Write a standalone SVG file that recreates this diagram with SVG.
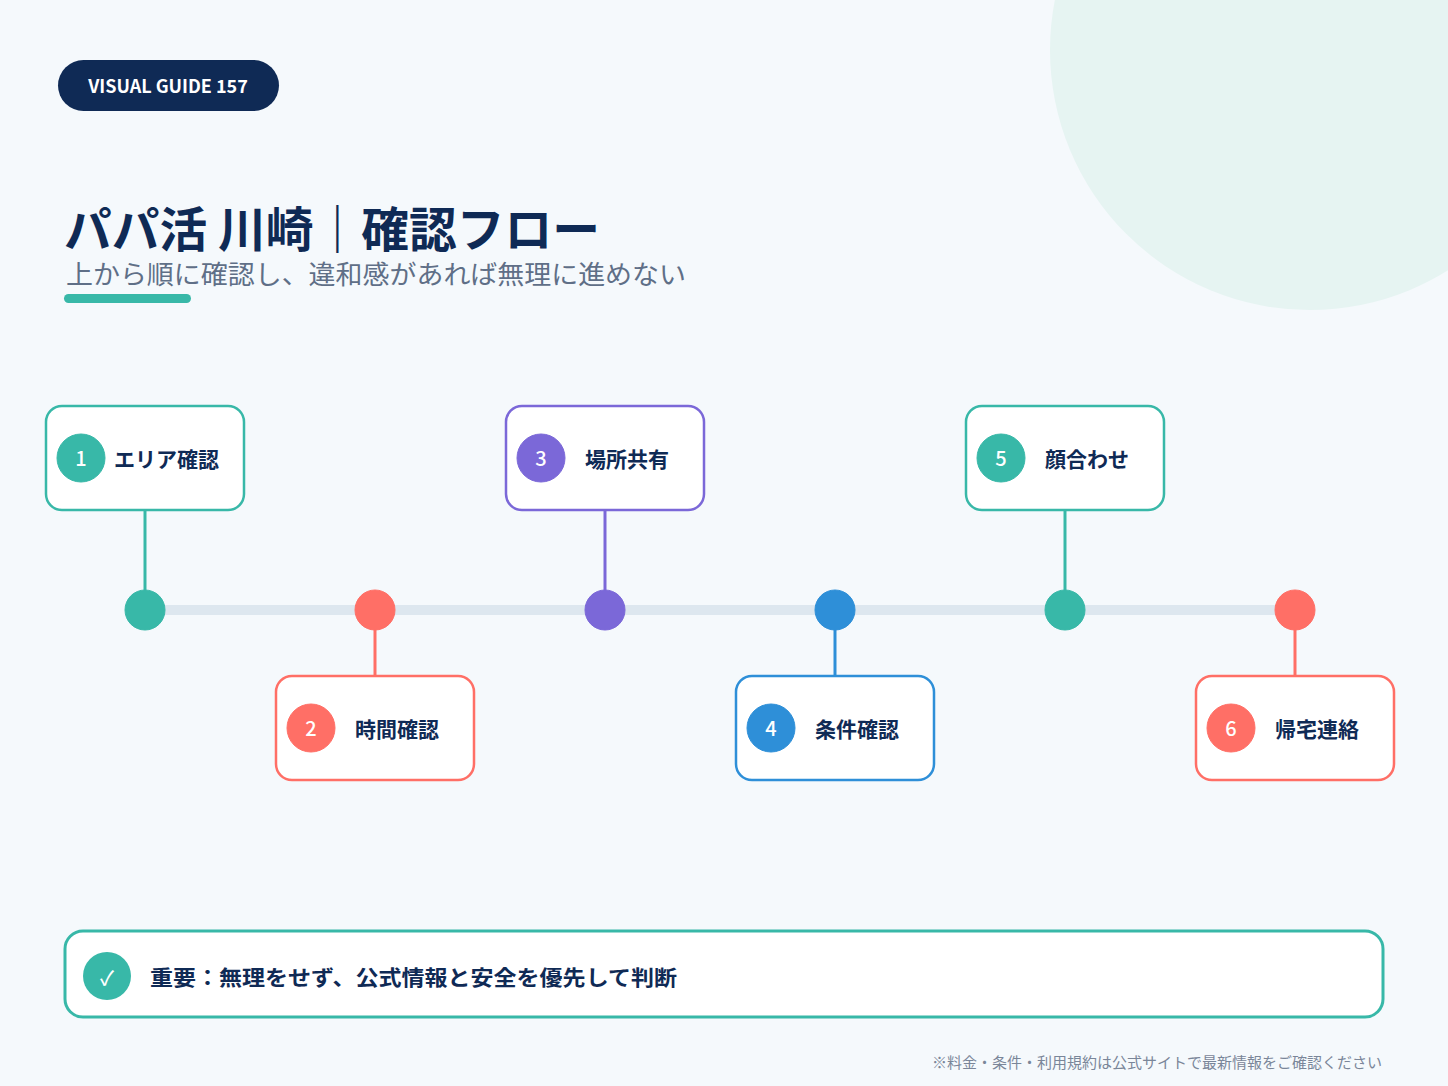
<svg xmlns="http://www.w3.org/2000/svg" width="1448" height="1086" viewBox="0 0 1448 1086">
<style>
text{font-family:"Noto Sans CJK JP","Noto Sans",sans-serif}
.box{fill:#fff;stroke-width:2.5}
.lbl{font-size:21px;font-weight:700;fill:#0f2a55}
.num{font-size:20px;font-weight:500;fill:#fff;text-anchor:middle}
.t{stroke:#38b8a8;fill:#38b8a8}.c{stroke:#ff6f66;fill:#ff6f66}.p{stroke:#7b68d8;fill:#7b68d8}.b{stroke:#2e8fd8;fill:#2e8fd8}
</style>
<rect width="1448" height="1086" fill="#f5f9fc"/>
<circle cx="1310" cy="50" r="260" fill="#e6f4f2"/>
<rect x="58" y="60" width="221" height="51" rx="25.5" fill="#0f2a55"/>
<text x="168" y="93" font-size="18" font-weight="700" fill="#fff" text-anchor="middle" font-family="Noto Sans,sans-serif">VISUAL GUIDE 157</text>
<text x="64" y="247" font-size="48" font-weight="700" fill="#0f2a55" textLength="536" lengthAdjust="spacingAndGlyphs">パパ活 川崎｜確認フロー</text>
<text x="66" y="284" font-size="26" fill="#5f6f87" textLength="620" lengthAdjust="spacingAndGlyphs">上から順に確認し、違和感があれば無理に進めない</text>
<rect x="64" y="294" width="127" height="9" rx="4.5" fill="#38b8a8"/>
<g id="connectors">
<line x1="145" y1="610" x2="1295" y2="610" stroke="#dde7ef" stroke-width="10"/>
<line x1="145" y1="510" x2="145" y2="610" stroke="#38b8a8" stroke-width="3"/>
<line x1="375" y1="610" x2="375" y2="676" stroke="#ff6f66" stroke-width="3"/>
<line x1="605" y1="510" x2="605" y2="610" stroke="#7b68d8" stroke-width="3"/>
<line x1="835" y1="610" x2="835" y2="676" stroke="#2e8fd8" stroke-width="3"/>
<line x1="1065" y1="510" x2="1065" y2="610" stroke="#38b8a8" stroke-width="3"/>
<line x1="1295" y1="610" x2="1295" y2="676" stroke="#ff6f66" stroke-width="3"/>
<circle cx="145" cy="610" r="20" class="t" stroke="none"/>
<circle cx="375" cy="610" r="20" class="c" stroke="none"/>
<circle cx="605" cy="610" r="20" class="p" stroke="none"/>
<circle cx="835" cy="610" r="20" class="b" stroke="none"/>
<circle cx="1065" cy="610" r="20" class="t" stroke="none"/>
<circle cx="1295" cy="610" r="20" class="c" stroke="none"/>
</g>
<g id="n1"><rect x="46" y="406" width="198" height="104" rx="16" class="box" stroke="#38b8a8"/><circle cx="81" cy="458" r="24" class="t"/><text x="81" y="466" class="num">1</text><text x="114" y="467" class="lbl">エリア確認</text></g>
<g id="n2"><rect x="276" y="676" width="198" height="104" rx="16" class="box" stroke="#ff6f66"/><circle cx="311" cy="728" r="24" class="c"/><text x="311" y="736" class="num">2</text><text x="355" y="737" class="lbl">時間確認</text></g>
<g id="n3"><rect x="506" y="406" width="198" height="104" rx="16" class="box" stroke="#7b68d8"/><circle cx="541" cy="458" r="24" class="p"/><text x="541" y="466" class="num">3</text><text x="585" y="467" class="lbl">場所共有</text></g>
<g id="n4"><rect x="736" y="676" width="198" height="104" rx="16" class="box" stroke="#2e8fd8"/><circle cx="771" cy="728" r="24" class="b"/><text x="771" y="736" class="num">4</text><text x="815" y="737" class="lbl">条件確認</text></g>
<g id="n5"><rect x="966" y="406" width="198" height="104" rx="16" class="box" stroke="#38b8a8"/><circle cx="1001" cy="458" r="24" class="t"/><text x="1001" y="466" class="num">5</text><text x="1045" y="467" class="lbl">顔合わせ</text></g>
<g id="n6"><rect x="1196" y="676" width="198" height="104" rx="16" class="box" stroke="#ff6f66"/><circle cx="1231" cy="728" r="24" class="c"/><text x="1231" y="736" class="num">6</text><text x="1275" y="737" class="lbl">帰宅連絡</text></g>
<g id="note"><rect x="65" y="931" width="1318" height="86" rx="18" fill="#fff" stroke="#38b8a8" stroke-width="3"/><circle cx="107" cy="976" r="24" fill="#38b8a8"/><text x="107" y="985" class="num" font-size="22">✓</text><text x="150" y="985" class="lbl" font-size="24" textLength="527" lengthAdjust="spacingAndGlyphs">重要：無理をせず、公式情報と安全を優先して判断</text></g>
<text x="932" y="1068" font-size="15" fill="#7a8699" textLength="450" lengthAdjust="spacingAndGlyphs">※料金・条件・利用規約は公式サイトで最新情報をご確認ください</text>
</svg>
